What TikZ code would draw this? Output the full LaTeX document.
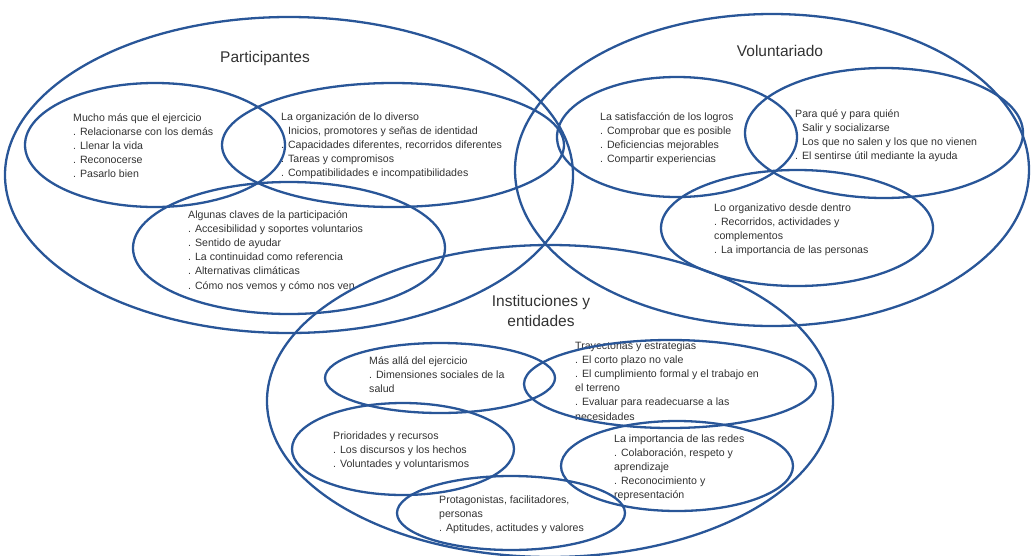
\documentclass[tikz,border=0pt]{standalone}
\usepackage{fontspec}
\setmainfont{Liberation Sans}
\definecolor{vennblue}{RGB}{41,86,152}
\definecolor{txtgray}{RGB}{50,50,50}
\newcommand{\vennleft}[1]{\begin{tabular}[t]{@{}l@{}}#1\end{tabular}}
\newcommand{\venncenter}[1]{\begin{tabular}[t]{@{}c@{}}#1\end{tabular}}
\tikzset{
  venn/.style={draw=vennblue, line width=2.3pt},
  bodytext/.style={anchor=base west, inner sep=0pt, text=txtgray,
    font=\fontsize{10.6}{14.2}\selectfont},
  titletext/.style={anchor=base, inner sep=0pt, text=txtgray,
    font=\fontsize{15.5}{20.5}\selectfont}
}
\begin{document}
\begin{tikzpicture}[x=1pt,y=-1pt]
\useasboundingbox (0,0) rectangle (1033,555);
\clip (0,0) rectangle (1033,555);
% titles
\node[titletext] (tPart) at (265,62) {Participantes};
\node[titletext] (tVol) at (780,56) {Voluntariado};
\node[titletext] (tInst) at (541,306) {\venncenter{Instituciones y\\entidades}};
% texts
\node[bodytext] (A) at (73,121) {\vennleft{Mucho más que el ejercicio\\. Relacionarse con los demás\\. Llenar la vida\\. Reconocerse\\. Pasarlo bien}};
\node[bodytext] (B) at (281,120) {\vennleft{La organización de lo diverso\\. Inicios, promotores y señas de identidad\\. Capacidades diferentes, recorridos diferentes\\. Tareas y compromisos\\. Compatibilidades e incompatibilidades}};
\node[bodytext] (C) at (188,218) {\vennleft{Algunas claves de la participación\\. Accesibilidad y soportes voluntarios\\. Sentido de ayudar\\. La continuidad como referencia\\. Alternativas climáticas\\. Cómo nos vemos y cómo nos ven}};
\node[bodytext] (D) at (600,120) {\vennleft{La satisfacción de los logros\\. Comprobar que es posible\\. Deficiencias mejorables\\. Compartir experiencias}};
\node[bodytext] (E) at (795,117) {\vennleft{Para qué y para quién\\. Salir y socializarse\\. Los que no salen y los que no vienen\\. El sentirse útil mediante la ayuda}};
\node[bodytext] (F) at (714,211) {\vennleft{Lo organizativo desde dentro\\. Recorridos, actividades y\\complementos\\. La importancia de las personas}};
\node[bodytext] (G) at (369,364) {\vennleft{Más allá del ejercicio\\. Dimensiones sociales de la\\salud}};
\node[bodytext] (H) at (575,349) {\vennleft{Trayectorias y estrategias\\. El corto plazo no vale\\. El cumplimiento formal y el trabajo en\\el terreno\\. Evaluar para readecuarse a las\\necesidades}};
\node[bodytext] (I) at (333,439) {\vennleft{Prioridades y recursos\\. Los discursos y los hechos\\. Voluntades y voluntarismos}};
\node[bodytext] (J) at (614,442) {\vennleft{La importancia de las redes\\. Colaboración, respeto y\\aprendizaje\\. Reconocimiento y\\representación}};
\node[bodytext] (K) at (439,503) {\vennleft{Protagonistas, facilitadores,\\personas\\. Aptitudes, actitudes y valores}};
% big ellipses
\draw[venn] (289,175) ellipse [x radius=284, y radius=158];
\draw[venn] (772,170) ellipse [x radius=257, y radius=156];
\draw[venn] (550,401) ellipse [x radius=283, y radius=156];
% small ellipses
\draw[venn] (155,145) ellipse [x radius=130, y radius=62];
\draw[venn] (393,145) ellipse [x radius=171, y radius=62];
\draw[venn] (289,248) ellipse [x radius=156, y radius=66];
\draw[venn] (677,137) ellipse [x radius=120, y radius=60];
\draw[venn] (884,133) ellipse [x radius=139, y radius=65];
\draw[venn] (797,228) ellipse [x radius=136, y radius=58];
\draw[venn] (440,378) ellipse [x radius=115, y radius=35];
\draw[venn] (670,384) ellipse [x radius=146, y radius=44];
\draw[venn] (403,449) ellipse [x radius=111, y radius=46];
\draw[venn] (677,466) ellipse [x radius=116, y radius=45];
\draw[venn] (511,513) ellipse [x radius=114, y radius=37];
\end{tikzpicture}
\end{document}
